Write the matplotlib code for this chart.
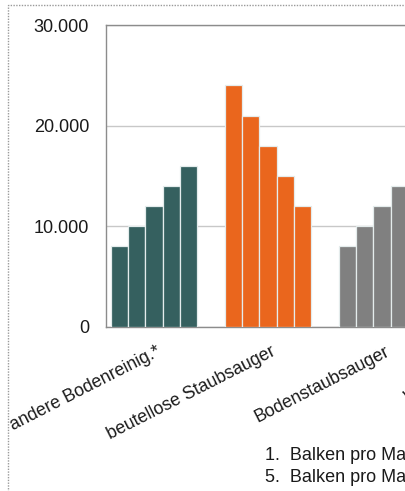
import numpy as np
import matplotlib
matplotlib.use("Agg")
import matplotlib.pyplot as plt
import matplotlib.transforms as mtransforms
from matplotlib.patches import Rectangle

plt.rcParams['font.family'] = ['Liberation Sans', 'DejaVu Sans']

# data
categories = ['andere Bodenreinig.*', 'beutellose Staubsauger', 'Bodenstaubsauger', 'Waschsauger']
teal_vals = [8000, 10000, 12000, 14000, 16000]
orange_vals = [24000, 21000, 18000, 15000, 12000]
grey_vals = [8000, 10000, 12000, 14000, 16000]
group_vals = [teal_vals, orange_vals, grey_vals]
group_colors = ['#35605F', '#EA661D', '#808080']
yticks = [0, 10000, 20000, 30000]
ytick_labels = ['0', '10.000', '20.000', '30.000']
notes = ['1.  Balken pro Marke', '5.  Balken pro Marke']

W, H = 406, 491
fig = plt.figure(figsize=(W / 100, H / 100), dpi=100)

# axes run past the right edge of the picture (chart is cut off there)
x0, y0, y1 = 105.7, 326.7, 25.0
xl, xr = -0.424, 3.576
span_px = 114.0 * (xr - xl)
ax = fig.add_axes([x0 / W, (H - y0) / H, span_px / W, (y0 - y1) / H])

bar_w = 0.152
for gi, vals in enumerate(group_vals):
    n = len(vals)
    offs = (np.arange(n) - (n - 1) / 2) * bar_w
    ax.bar(gi + offs, vals, width=bar_w, color=group_colors[gi],
           edgecolor='#e4ecec', linewidth=0.9, zorder=3)

ax.set_xlim(xl, xr)
ax.set_ylim(0, 30000)
ax.set_yticks(yticks)
ax.set_yticklabels(ytick_labels)
ax.set_xticks([])
ax.tick_params(axis='y', length=0, pad=12, labelsize=13, labelcolor='#1a1a1a')
ax.yaxis.grid(True, color='#c8c8c8', linewidth=1.0, zorder=0)
ax.set_axisbelow(True)
for s in ['left', 'top', 'bottom', 'right']:
    ax.spines[s].set_color('#8c8c8c')
    ax.spines[s].set_linewidth(1.0)

# rotated category labels
lab_tr = mtransforms.offset_copy(ax.transData, fig=fig, x=6, y=-24, units='dots')
for i, c in enumerate(categories):
    ax.text(i, 0, c, transform=lab_tr, rotation=27, rotation_mode='anchor',
            ha='right', va='center', fontsize=12.8, color='#1a1a1a', clip_on=False)

# footnote lines
for k, t in enumerate(notes):
    fig.text(265 / W, 1 - (455 + 23 * k) / H, t, ha='left', va='center',
             fontsize=13, color='#1a1a1a')

# dotted chart frame
frame = Rectangle((8 / W, -0.1), 1.2, 1 - 5 / H + 0.1, transform=fig.transFigure,
                  fill=False, edgecolor='#9a9a9a', linewidth=1.0,
                  linestyle=(0, (1, 1)))
fig.patches.append(frame)

fig.savefig('out.png', dpi=100)
